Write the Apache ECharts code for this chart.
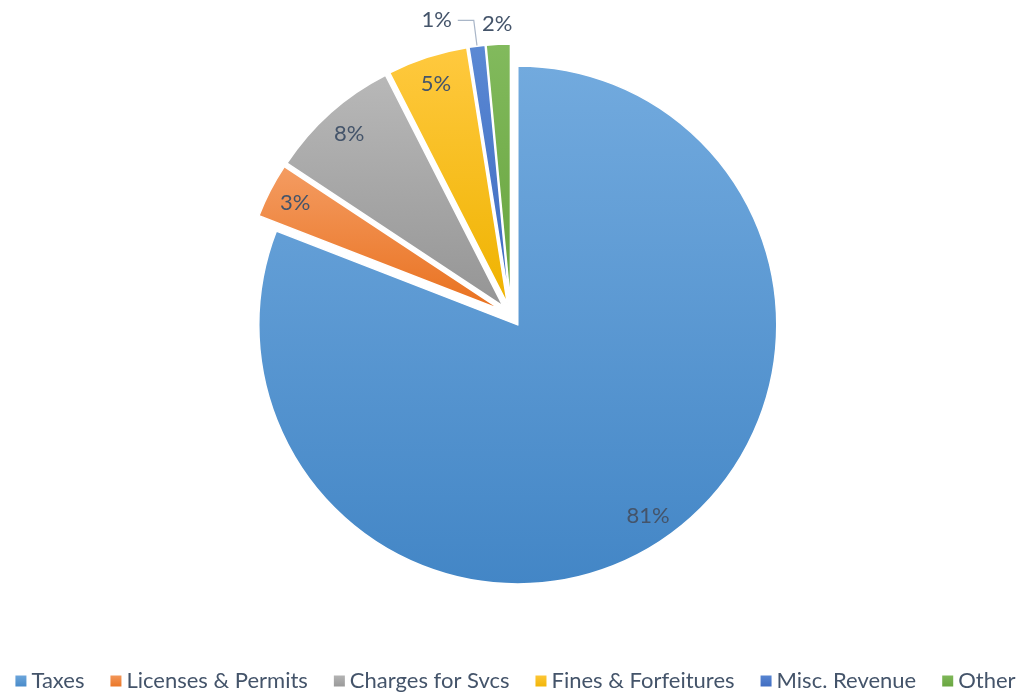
<!DOCTYPE html>
<html>
<head>
<meta charset="utf-8">
<script src="https://cdn.jsdelivr.net/npm/echarts@6/dist/echarts.min.js"></script>
<style>
html,body{margin:0;padding:0;background:#fff;}
#chart{width:1029px;height:696px;}
</style>
</head>
<body>
<div id="chart"></div>
<script>
const categories = ['Taxes', 'Licenses & Permits', 'Charges for Svcs', 'Fines & Forfeitures', 'Misc. Revenue', 'Other'];
const values = [80.9, 3.4, 8.2, 5.0, 1.0, 1.5];
const colorTop = ['#72aade', '#f49c62', '#b8b8b8', '#ffc93f', '#5b89d4', '#82ba5d'];
const colorBottom = ['#4386c6', '#e9711f', '#959595', '#efb300', '#3c69bf', '#66a33c'];

const FONT = 'Lato, "Open Sans", sans-serif';
const LABEL_COLOR = '#44546a';

function grad(i) {
  return new echarts.graphic.LinearGradient(0, 0, 0, 1, [
    { offset: 0, color: colorTop[i] },
    { offset: 1, color: colorBottom[i] }
  ]);
}

const pieData = categories.map((name, i) => ({
  name: name,
  value: values[i],
  selected: true,
  itemStyle: { color: grad(i) }
}));

const labelData = categories.map((name, i) => {
  const item = { name: name, value: values[i], selected: true };
  if (name === 'Misc. Revenue') {
    item.label = { position: 'outside', distanceToLabelLine: 6 };
    item.labelLine = { show: true, length: 26, length2: 16, lineStyle: { color: '#a9b6c8', width: 1.2 } };
  } else if (name === 'Other') {
    item.label = { position: 'outside', distanceToLabelLine: 0 };
    item.labelLine = { show: false, length: 20, length2: 0 };
  }
  return item;
});

const center = [511, 315];
const R = 259;

const chart = echarts.init(document.getElementById('chart'), null, { renderer: 'canvas' });
chart.setOption({
  backgroundColor: '#ffffff',
  animation: false,
  legend: {
    top: 670,
    left: 'center',
    width: 1029,
    padding: 0,
    icon: 'rect',
    itemWidth: 13,
    itemHeight: 13,
    itemGap: 24,
    selectedMode: false,
    textStyle: { fontFamily: FONT, fontSize: 22, color: '#44546a', padding: [0, 0, 0, -1] },
    data: categories
  },
  series: [
    {
      type: 'pie',
      center: center,
      radius: [0, R],
      startAngle: 90,
      clockwise: true,
      selectedMode: 'multiple',
      selectedOffset: 12,
      avoidLabelOverlap: false,
      silent: true,
      emphasis: { disabled: true },
      itemStyle: { borderColor: '#ffffff', borderWidth: 1.5 },
      label: { show: false },
      labelLine: { show: false },
      data: pieData
    },
    {
      type: 'pie',
      center: center,
      radius: [R * 0.76, R],
      startAngle: 90,
      clockwise: true,
      selectedMode: 'multiple',
      selectedOffset: 12,
      avoidLabelOverlap: false,
      silent: true,
      emphasis: { disabled: true },
      itemStyle: { color: 'rgba(0,0,0,0)', borderWidth: 0 },
      label: {
        show: true,
        position: 'inside',
        fontFamily: FONT,
        fontSize: 22,
        color: LABEL_COLOR,
        formatter: p => Math.round(p.percent) + '%'
      },
      labelLine: { show: false },
      labelLayout: function (params) {
        if (params.dataIndex === 5) {
          return { align: 'center' };
        }
        return {};
      },
      data: labelData
    }
  ]
});
</script>
</body>
</html>
